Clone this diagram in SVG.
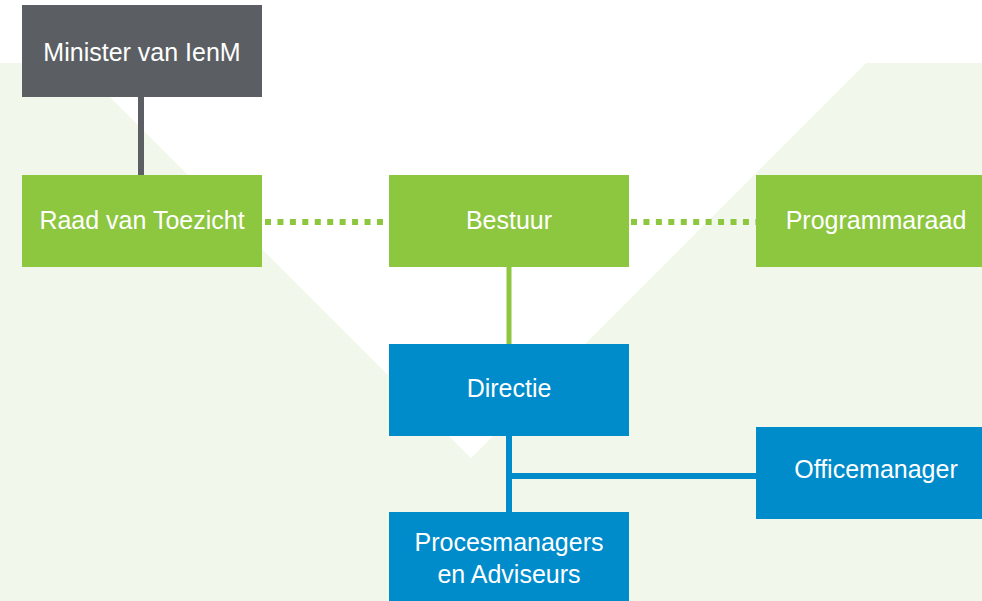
<svg xmlns="http://www.w3.org/2000/svg" width="982" height="601" viewBox="0 0 982 601">
<style>
.bg{fill:#f2f7eb}
.gray{fill:#5b5f63}
.green{fill:#8dc63f}
.blue{fill:#008bca}
text{font-family:"Liberation Sans",Arial,sans-serif;font-size:25px;fill:#ffffff;text-anchor:middle}
.dot{stroke:#8dc63f;stroke-width:6;stroke-dasharray:6 6.44;fill:none}
</style>
<rect class="bg" x="0" y="63" width="982" height="538"/>
<polygon fill="#ffffff" points="76,63 866,63 471,458"/>
<g id="connectors">
<line x1="141" y1="97" x2="141" y2="175" stroke="#5b5f63" stroke-width="6"/>
<line class="dot" x1="265" y1="222" x2="386" y2="222"/>
<line class="dot" x1="631" y1="222" x2="756" y2="222"/>
<line x1="509" y1="267" x2="509" y2="344" stroke="#8dc63f" stroke-width="5"/>
<line x1="509" y1="436" x2="509" y2="512" stroke="#008bca" stroke-width="6"/>
<line x1="509" y1="476" x2="756" y2="476" stroke="#008bca" stroke-width="6"/>
</g>
<g id="minister"><rect class="gray" x="22" y="5" width="240" height="92"/><text x="142" y="61">Minister van IenM</text></g>
<g id="raad"><rect class="green" x="22" y="175" width="240" height="92"/><text x="142" y="229">Raad van Toezicht</text></g>
<g id="bestuur"><rect class="green" x="389" y="175" width="240" height="92"/><text x="509" y="229">Bestuur</text></g>
<g id="programmaraad"><rect class="green" x="756" y="175" width="240" height="92"/><text x="876" y="229">Programmaraad</text></g>
<g id="directie"><rect class="blue" x="389" y="344" width="240" height="92"/><text x="509" y="397">Directie</text></g>
<g id="officemanager"><rect class="blue" x="756" y="427" width="240" height="92"/><text x="876" y="478">Officemanager</text></g>
<g id="procesmanagers"><rect class="blue" x="389" y="512" width="240" height="92"/><text x="509" y="551">Procesmanagers</text><text x="509" y="583">en Adviseurs</text></g>
</svg>
